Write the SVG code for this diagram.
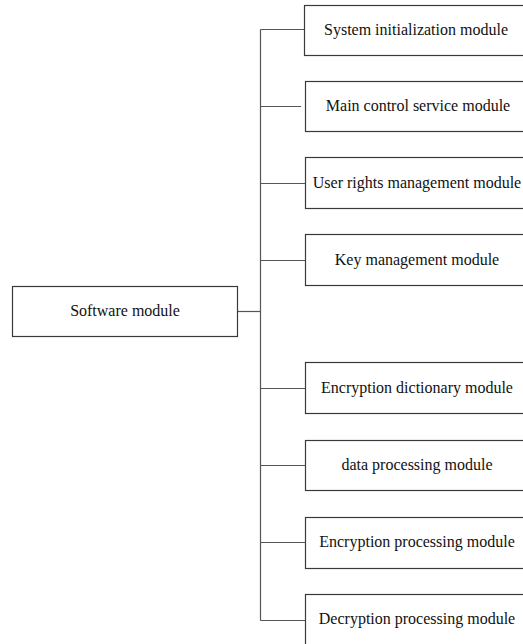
<svg xmlns="http://www.w3.org/2000/svg" width="523" height="644" viewBox="0 0 523 644">
  <style>
    .box { fill: #ffffff; stroke: #3a3a3a; stroke-width: 1.2; }
    .lbl { font-family: "Liberation Serif", "Times New Roman", serif; font-size: 16px; fill: #111111; text-anchor: middle; dominant-baseline: central; }
    .wire { stroke: #555555; stroke-width: 1.2; fill: none; }
  </style>
  <rect width="523" height="644" fill="#ffffff"/>

  <!-- connectors: trunk, root stub, and branches to each module -->
  <g id="connectors">
    <line class="wire" x1="260.5" y1="29.5" x2="260.5" y2="620.5"/>
    <line class="wire" x1="238" y1="311.5" x2="260.5" y2="311.5"/>
    <line class="wire" x1="260.5" y1="29.5" x2="305" y2="29.5"/>
    <line class="wire" x1="260.5" y1="106.5" x2="301" y2="106.5"/>
    <line class="wire" x1="260.5" y1="183.5" x2="305" y2="183.5"/>
    <line class="wire" x1="260.5" y1="260.5" x2="305" y2="260.5"/>
    <line class="wire" x1="260.5" y1="388.5" x2="305" y2="388.5"/>
    <line class="wire" x1="260.5" y1="465.5" x2="305" y2="465.5"/>
    <line class="wire" x1="260.5" y1="542.5" x2="305" y2="542.5"/>
    <line class="wire" x1="260.5" y1="620.5" x2="305" y2="620.5"/>
  </g>

  <g id="software">
    <rect class="box" x="12.5" y="286.5" width="225" height="50"/>
    <text class="lbl" x="125" y="310">Software module</text>
  </g>

  <g id="sysinit">
    <rect class="box" x="304.5" y="5.5" width="230" height="50"/>
    <text class="lbl" x="416" y="29">System initialization module</text>
  </g>
  <g id="maincontrol">
    <rect class="box" x="305.5" y="81.5" width="230" height="50"/>
    <text class="lbl" x="418" y="105">Main control service module</text>
  </g>
  <g id="userrights">
    <rect class="box" x="305.5" y="157.5" width="230" height="51"/>
    <text class="lbl" x="417" y="182">User rights management module</text>
  </g>
  <g id="keymgmt">
    <rect class="box" x="305.5" y="234.5" width="230" height="51"/>
    <text class="lbl" x="417" y="259">Key management module</text>
  </g>
  <g id="encdict">
    <rect class="box" x="305.5" y="362.5" width="230" height="51"/>
    <text class="lbl" x="417" y="387">Encryption dictionary module</text>
  </g>
  <g id="dataproc">
    <rect class="box" x="305.5" y="440.5" width="230" height="50"/>
    <text class="lbl" x="417" y="464">data processing module</text>
  </g>
  <g id="encproc">
    <rect class="box" x="305.5" y="517.5" width="230" height="51"/>
    <text class="lbl" x="417" y="541">Encryption processing module</text>
  </g>
  <g id="decproc">
    <rect class="box" x="305.5" y="594.5" width="230" height="60"/>
    <text class="lbl" x="417" y="618">Decryption processing module</text>
  </g>
</svg>
